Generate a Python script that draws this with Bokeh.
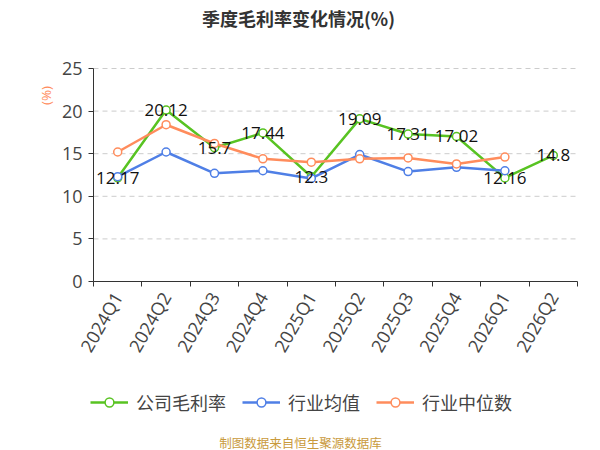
import math
from bokeh.plotting import figure
from bokeh.models import (ColumnDataSource, Range1d, FixedTicker, Legend, LegendItem,
                          Label, LinearAxis)
from bokeh.core.properties import value
from bokeh.embed import file_html
from bokeh.resources import INLINE

quarters = ["2024Q1", "2024Q2", "2024Q3", "2024Q4", "2025Q1", "2025Q2",
            "2025Q3", "2025Q4", "2026Q1", "2026Q2"]
company = [12.17, 20.12, 15.7, 17.44, 12.3, 19.09, 17.31, 17.02, 12.16, 14.8]
ind_avg = [12.3, 15.2, 12.7, 13.0, 12.1, 14.9, 12.9, 13.4, 13.0, float("nan")]
ind_med = [15.2, 18.4, 16.2, 14.4, 14.0, 14.4, 14.5, 13.8, 14.6, float("nan")]
y_ticks = [0, 5, 10, 15, 20, 25]
series_names = ["公司毛利率", "行业均值", "行业中位数"]
title_text = "季度毛利率变化情况(%)"
unit_text = "(%)"
footer_text = "制图数据来自恒生聚源数据库"

GREEN = "#58c322"
BLUE = "#4f7fe6"
ORANGE = "#ff8c5c"
CJK = "Noto Sans CJK SC"
NUM = "Open Sans"

W, H = 600, 450
# plot area in canvas pixels
L, R, T, B = 93, 577, 68, 281
n = len(quarters)
x_lo, x_hi = -0.5, n - 0.5
y_lo, y_hi = y_ticks[0], y_ticks[-1]
ux = (R - L) / (x_hi - x_lo)
uy = (B - T) / (y_hi - y_lo)
xr = Range1d(x_lo - L / ux, x_hi + (W - R) / ux)
yr = Range1d(y_lo - (H - B) / uy, y_hi + T / uy)


def px(cx, cy):
    return xr.start + cx / ux, yr.end - cy / uy


xs = list(range(n))
src = ColumnDataSource(dict(
    x=xs, company=company, avg=ind_avg, med=ind_med,
    lab=[str(v) for v in company],
))

p = figure(width=W, height=H, output_backend="svg", toolbar_location=None,
           x_range=xr, y_range=yr, x_axis_location=None, y_axis_location=None,
           min_border_left=0, min_border_right=0, min_border_top=0,
           min_border_bottom=0)
p.outline_line_color = None
p.xgrid.grid_line_color = None
p.ygrid.grid_line_color = None

# dashed horizontal grid lines, limited to the plot area
grid_src = ColumnDataSource(dict(y=y_ticks[1:]))
p.segment(x0=x_lo, x1=x_hi, y0="y", y1="y", source=grid_src,
          line_color="#cccccc", line_dash="5 4", line_width=1)

# x axis at y = 0
xa = LinearAxis(fixed_location=y_lo, bounds=(x_lo, x_hi))
xa.ticker = FixedTicker(ticks=xs, minor_ticks=[i - 0.5 for i in range(n + 1)])
xa.major_label_overrides = {i: q for i, q in enumerate(quarters)}
xa.major_tick_in = 0
xa.major_tick_out = 0
xa.minor_tick_in = 0
xa.minor_tick_out = 5
xa.minor_tick_line_color = "#333333"
xa.axis_line_color = "#333333"
xa.axis_line_width = 1
xa.major_label_orientation = math.pi / 3
xa.major_label_text_font = NUM
xa.major_label_text_font_size = "18px"
xa.major_label_text_color = "#444444"
xa.major_label_standoff = 7
p.add_layout(xa, "below")

# y axis at x = -0.5
ya = LinearAxis(fixed_location=x_lo, bounds=(y_lo, y_hi))
ya.ticker = FixedTicker(ticks=y_ticks)
ya.major_tick_in = 0
ya.major_tick_out = 5
ya.minor_tick_line_color = None
ya.axis_line_color = "#333333"
ya.major_tick_line_color = "#333333"
ya.major_label_text_font = NUM
ya.major_label_text_font_size = "18px"
ya.major_label_text_color = "#444444"
ya.major_label_standoff = 6
p.add_layout(ya, "left")

renderers = []
for col, color in (("company", GREEN), ("avg", BLUE), ("med", ORANGE)):
    ln = p.line("x", col, source=src, line_color=color, line_width=2.5)
    p.scatter("x", col, source=src, size=8, marker="circle",
              fill_color="white", line_color=color, line_width=1.5)
    # larger marker used only for the legend glyph
    big = p.scatter("x", col, source=ColumnDataSource(dict(x=[0], **{col: [float("nan")]})),
                    size=15, marker="circle", fill_color="white",
                    line_color=color, line_width=1.5)
    renderers.append((ln, big))

p.text("x", "company", text="lab", source=src, text_align="center",
       text_baseline="middle", text_font=value(NUM), text_font_size="17px",
       text_color="#111111")

legend = Legend(items=[LegendItem(label=nm, renderers=list(r))
                       for nm, r in zip(series_names, renderers)],
                orientation="horizontal", location=(90, 35),
                glyph_width=38, glyph_height=22, label_standoff=8, spacing=16,
                padding=0, margin=0, border_line_color=None,
                background_fill_alpha=0,
                label_text_font=CJK, label_text_font_size="18px",
                label_text_color="#444444")
p.add_layout(legend, "center")

tx, ty = px(298, 17)
p.add_layout(Label(x=tx, y=ty, text=title_text, text_align="center",
                   text_baseline="middle", text_font=CJK, text_font_size="18px",
                   text_font_style="bold", text_color="#333333"))
ux_, uy_ = px(45, 95)
p.add_layout(Label(x=ux_, y=uy_, text=unit_text, angle=math.pi / 2,
                   text_align="center", text_baseline="middle", text_font=NUM,
                   text_font_size="13.5px", text_color=ORANGE))
fx, fy = px(300, 441.5)
p.add_layout(Label(x=fx, y=fy, text=footer_text, text_align="center",
                   text_baseline="middle", text_font=CJK, text_font_size="12.5px",
                   text_color="#c99a3c"))

open("out.html", "w").write(file_html(p, INLINE))
